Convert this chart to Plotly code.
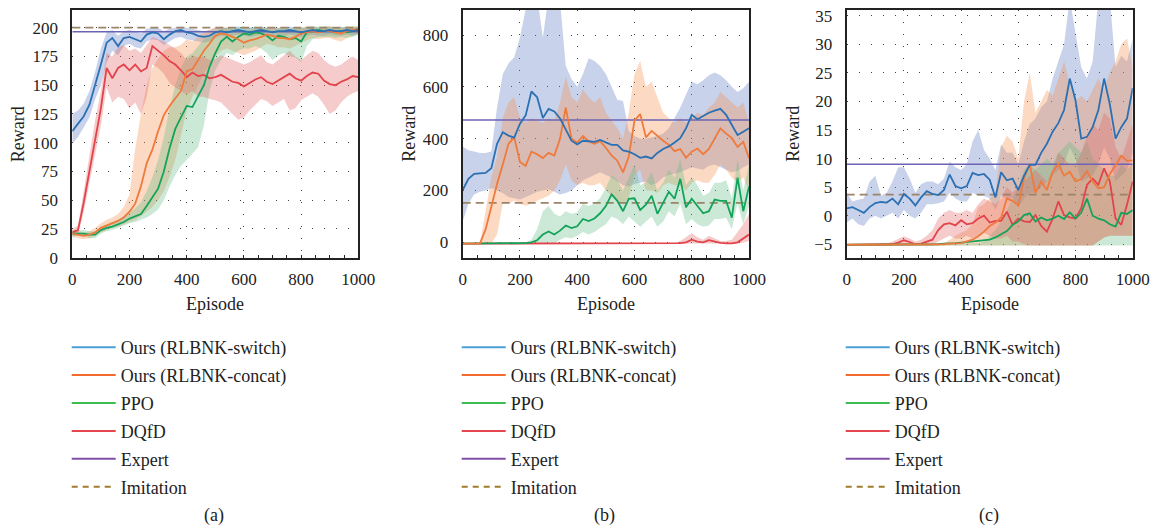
import plotly.graph_objects as go

EPISODES = list(range(0, 1001, 20))

# ---------------- Panel (a) ----------------
A_SWITCH = [110,116,123,133,150,168,187,191,184,191,
            192,190,188,194,196,195,190,194,197,198,
            196,195,193,192,193,196,197,196,197,198,
            197,196,197,198,197,196,197,197,198,197,
            196,197,198,197,197,198,197,197,198,197,
            198]
A_SWITCH_LO = [99,105,113,122,138,150,170,180,176,184,
               186,183,182,188,190,189,185,188,191,192,
               190,189,188,187,188,191,193,192,193,194,
               193,192,193,194,193,192,193,193,194,193,
               192,193,194,193,193,194,193,193,194,193,
               194]
A_SWITCH_HI = [125,128,134,145,162,182,196,198,193,197,
               198,197,195,199,200,200,197,199,200,201,
               200,199,198,197,198,200,200,200,200,201,
               200,200,200,201,200,200,200,200,201,200,
               200,200,201,200,200,201,200,200,201,200,
               201]
A_CONCAT = [21,20,19,20,22,26,28,30,32,35,
            40,47,62,82,94,110,124,132,138,145,
            162,164,172,180,186,193,195,194,192,190,
            187,189,190,192,194,193,191,191,190,192,
            195,196,197,196,197,197,196,195,197,198,
            199]
A_CONCAT_LO = [18,17,16,17,19,22,24,26,27,29,
               31,33,36,40,44,50,58,70,85,105,
               128,140,150,160,168,175,180,182,180,178,
               176,178,180,183,186,185,183,183,182,184,
               187,189,191,190,191,191,189,188,191,193,
               195]
A_CONCAT_HI = [24,23,22,23,26,30,33,35,38,44,
               55,95,125,150,165,173,180,183,183,185,
               190,188,192,196,198,200,201,200,199,198,
               197,198,199,200,200,200,199,199,198,199,
               200,201,201,200,201,201,200,200,201,201,
               201]
A_PPO = [21,21,21,20,20,24,26,27,29,31,
         34,36,38,45,52,60,75,95,112,122,
         132,131,140,150,166,178,188,192,188,192,
         195,194,196,195,193,189,193,192,190,191,
         188,196,197,198,197,197,196,197,196,197,
         199]
A_PPO_LO = [18,19,19,17,17,21,23,24,26,28,
            30,31,33,35,38,42,50,62,72,80,
            85,90,96,115,145,163,172,178,176,180,
            182,182,184,182,178,172,176,178,175,174,
            170,184,190,192,192,192,191,192,191,192,
            194]
A_PPO_HI = [24,24,24,23,23,27,29,31,33,36,
            39,43,48,58,70,85,105,130,150,165,
            175,178,184,190,194,197,199,200,199,200,
            201,200,201,200,200,198,200,200,199,200,
            199,201,201,201,201,201,200,201,200,201,
            201]
A_DQFD = [22,24,48,75,105,130,165,156,165,168,
          163,168,162,165,184,180,176,171,168,163,
          157,161,158,159,156,157,159,156,153,152,
          149,152,155,157,153,151,154,157,160,156,
          154,158,161,160,154,151,150,153,155,158,
          157]
A_DQFD_LO = [19,20,40,62,90,115,148,135,140,138,
             130,135,125,140,168,165,160,152,148,145,
             142,145,140,140,138,137,135,130,125,120,
             122,128,133,138,136,132,135,138,128,130,
             137,140,143,140,133,125,128,135,140,143,
             145]
A_DQFD_HI = [25,28,58,90,120,145,178,175,183,185,
             180,182,178,185,192,190,188,185,182,178,
             172,176,174,175,172,173,176,174,172,170,
             168,170,173,176,170,168,172,176,180,175,
             172,176,180,178,172,168,166,168,172,175,
             172]
A_EXPERT = 196.5
A_IMITATION = 200

# ---------------- Panel (b) ----------------
B_SWITCH = [202,245,264,266,268,286,380,425,412,404,
            458,490,582,560,480,515,505,478,435,392,
            378,392,390,388,395,385,376,376,355,350,
            340,326,331,324,345,360,370,385,402,440,
            492,475,488,500,508,515,492,450,414,427,
            440]
B_SWITCH_LO = [80,150,185,195,200,210,200,190,175,170,
               165,175,185,195,200,205,195,185,190,200,
               220,240,250,260,270,260,250,235,220,215,
               225,230,235,220,230,250,260,265,270,280,
               290,285,280,295,300,290,280,270,275,290,
               300]
B_SWITCH_HI = [370,355,350,345,345,350,520,650,690,715,
               790,900,950,950,790,950,950,930,680,630,
               600,650,710,700,680,650,600,550,545,430,
               410,400,400,405,410,420,440,480,520,570,
               620,610,625,645,655,645,625,600,580,595,
               620]
B_CONCAT = [-5,-5,-5,-5,50,140,225,300,380,405,
            310,295,350,340,325,345,335,400,520,400,
            385,410,390,380,390,365,335,315,270,330,
            470,495,405,430,410,392,376,352,360,326,
            350,362,340,360,400,440,420,402,368,388,
            325]
B_CONCAT_LO = [-5,-5,-5,-5,-5,-5,30,150,150,160,
               150,140,150,160,170,180,200,240,300,240,
               220,230,220,220,230,200,180,160,150,170,
               260,280,200,200,190,220,230,220,220,200,
               230,240,230,230,260,300,280,250,230,250,
               200]
B_CONCAT_HI = [-5,-5,-5,-5,120,250,330,480,540,560,
               480,460,480,470,460,480,470,540,640,560,
               540,590,560,540,560,500,470,440,400,500,
               650,700,600,620,560,500,480,460,480,460,
               480,500,490,520,540,580,560,540,520,540,
               460]
B_PPO = [-5,-5,-5,-5,-5,-5,-5,-5,-5,-5,
         -4,-3,0,8,30,42,30,45,65,55,
         62,90,82,92,112,140,185,160,120,168,
         170,125,145,180,110,150,195,168,245,135,
         168,140,112,120,165,160,160,95,250,120,
         215]
B_PPO_LO = [-5,-5,-5,-5,-5,-5,-5,-5,-5,-5,
            -5,-5,-5,-5,-5,0,-5,10,20,15,
            25,40,30,40,55,70,100,90,70,100,
            80,60,80,100,60,80,120,100,150,70,
            90,70,60,65,90,90,95,50,150,70,
            140]
B_PPO_HI = [-5,-5,-5,-5,-5,-5,-5,-5,-5,-5,
            -3,0,10,50,120,140,110,100,120,110,
            115,150,140,150,170,210,260,240,200,250,
            300,220,230,270,200,230,280,250,320,220,
            250,220,180,190,230,230,240,170,320,200,
            300]
B_DQFD = [-5,-5,-5,-5,-5,-5,-5,-5,-5,-5,
          -5,-5,-5,-5,-5,-5,-5,-5,-5,-5,
          -5,-5,-5,-5,-5,-5,-5,-5,-5,-5,
          -5,-5,-5,-5,-5,-5,-5,-5,-3,0,
          10,3,0,8,3,-2,-4,-4,0,15,
          30]
B_DQFD_LO = [-5,-5,-5,-5,-5,-5,-5,-5,-5,-5,
             -5,-5,-5,-5,-5,-5,-5,-5,-5,-5,
             -5,-5,-5,-5,-5,-5,-5,-5,-5,-5,
             -5,-5,-5,-5,-5,-5,-5,-5,-5,-5,
             -5,-5,-5,-5,-5,-5,-5,-5,-5,-2,
             5]
B_DQFD_HI = [-5,-5,-5,-5,-5,-5,-5,-5,-5,-5,
             -5,-5,-5,-5,-5,-5,-5,-5,-5,-5,
             -5,-5,-5,-5,-5,-5,-5,-5,-5,-5,
             -5,-5,-5,-5,-5,-5,-5,-5,5,20,
             35,20,10,25,15,5,5,10,40,70,
             110]
B_EXPERT = 472
B_IMITATION = 152

# ---------------- Panel (c) ----------------
C_SWITCH = [1.3,1.5,1.0,0.5,1.5,2.2,2.4,2.3,3.0,2.0,
            3.8,3.0,1.8,3.2,4.3,3.8,3.6,4.5,7.2,5.2,
            4.8,5.2,7.5,7.1,7.3,6.3,3.2,7.6,6.2,6.5,
            4.5,7.0,8.9,8.9,11.0,12.6,14.7,16.2,18.5,24.0,
            20.2,13.5,13.8,15.5,18.5,24.0,19.5,13.5,15.5,17.0,
            22.3]
C_SWITCH_LO = [-1.2,-0.5,-1.5,-1.8,-0.5,0.0,-0.5,0.0,0.5,-0.5,
               1.0,0.0,-0.5,0.5,2.0,2.0,2.2,2.5,4.0,3.0,
               2.5,2.5,4.0,3.5,3.5,3.0,1.0,3.5,3.0,3.0,
               1.5,3.0,4.0,4.0,5.0,6.0,7.0,8.0,9.0,12.0,
               10.0,6.0,6.5,7.0,9.0,12.0,10.0,6.0,7.0,8.0,
               11.0]
C_SWITCH_HI = [4.0,2.5,2.8,3.0,6.0,7.0,3.5,4.0,6.0,8.5,
               8.5,6.5,4.0,5.5,6.0,6.0,5.5,6.5,9.5,8.5,
               8.0,9.0,13.0,15.0,11.5,10.0,8.0,12.5,11.0,11.0,
               9.0,13.0,16.0,17.0,19.0,20.0,24.0,27.0,30.0,38.0,
               32.0,26.0,24.0,27.0,38.0,38.0,38.0,26.0,28.0,27.0,
               31.0]
C_CONCAT = [-5.1,-5.1,-5.1,-5.1,-5.1,-5.1,-5.1,-5.1,-5.1,-5.1,
            -5.1,-5.1,-5.1,-5.1,-5.1,-5.1,-5.1,-5.0,-4.9,-4.9,
            -4.8,-4.5,-4.2,-3.6,-2.8,-1.8,-1.2,-0.3,3.0,2.6,
            1.8,6.5,9.0,4.0,6.0,4.5,7.7,9.0,7.0,7.7,
            6.0,6.4,7.8,6.0,4.8,5.0,7.3,8.8,10.5,9.6,
            9.7]
C_CONCAT_LO = [-5.2,-5.2,-5.2,-5.2,-5.2,-5.2,-5.2,-5.2,-5.2,-5.2,
               -5.2,-5.2,-5.2,-5.2,-5.2,-5.2,-5.2,-5.2,-5.2,-5.2,
               -5.2,-5.2,-5.2,-5.2,-5.2,-5.2,-5.2,-5.2,-5.2,-5.2,
               -5.2,-5.2,-5.2,-5.2,-5.2,-5.2,-5.2,-5.2,-5.2,-5.2,
               -5.2,-5.2,-5.2,-5.2,-4.5,-3.8,-3.5,-3.5,-3.5,-3.5,
               -3.5]
C_CONCAT_HI = [-4.8,-4.8,-4.8,-4.8,-4.8,-4.8,-4.8,-4.8,-4.8,-4.8,
               -4.8,-4.8,-4.8,-4.8,-4.8,-4.8,-4.8,-4.8,-4.2,-3.5,
               -3.0,-2.5,-1.5,1.5,2.0,3.0,4.0,12.0,14.0,13.0,
               10.0,20.0,25.0,18.0,20.0,22.0,21.0,24.0,27.0,23.0,
               20.0,21.0,20.0,22.0,24.0,22.0,25.0,27.0,30.0,31.0,
               26.0]
C_PPO = [-5.1,-5.1,-5.1,-5.1,-5.1,-5.1,-5.1,-5.1,-5.1,-5.1,
         -5.1,-5.1,-5.1,-5.1,-5.1,-5.1,-5.0,-4.9,-4.9,-4.8,
         -4.7,-4.6,-4.5,-4.4,-4.3,-4.2,-3.8,-3.2,-2.7,-1.6,
         -1.0,0.1,0.4,-1.0,-0.3,-0.8,-0.5,0.0,-0.6,0.6,
         -0.5,0.5,3.0,0.0,-0.5,-0.8,-1.5,-1.9,0.5,0.3,
         1.0]
C_PPO_LO = [-5.2] * 51
C_PPO_HI = [-4.8,-4.8,-4.8,-4.8,-4.8,-4.8,-4.8,-4.8,-4.8,-4.8,
            -4.8,-4.8,-4.8,-4.8,-4.8,-4.8,-4.8,-4.8,-4.8,-4.8,
            -4.8,-4.8,-4.8,-4.8,-4.5,-3.5,-2.5,-1.0,1.0,3.0,
            5.0,8.0,9.0,8.0,9.0,10.0,9.0,11.0,12.0,13.0,
            12.0,11.0,13.0,10.0,9.0,8.0,7.0,7.0,9.0,8.0,
            9.0]
C_DQFD = [-5.1,-5.1,-5.1,-5.1,-5.1,-5.1,-5.1,-5.1,-5.0,-4.7,
          -4.3,-4.6,-5.0,-4.9,-4.5,-4.2,-2.5,-1.5,-1.3,-1.7,
          -0.8,-1.5,-1.3,-0.5,0.0,-1.2,-0.9,-0.9,0.7,-1.6,
          -0.5,-1.0,-1.1,0.1,-1.8,-2.8,-0.5,2.5,0.1,-0.3,
          -0.5,1.3,5.4,6.5,5.4,8.3,6.0,-0.5,-1.6,1.9,
          6.0]
C_DQFD_LO = [-5.2,-5.2,-5.2,-5.2,-5.2,-5.2,-5.2,-5.2,-5.2,-5.2,
             -5.2,-5.2,-5.2,-5.2,-5.2,-5.2,-4.5,-4.0,-3.5,-4.0,
             -4.0,-3.5,-4.0,-3.5,-3.0,-3.5,-4.0,-4.0,-3.5,-4.5,
             -4.5,-5.0,-5.2,-5.2,-5.2,-5.2,-5.2,-5.2,-5.2,-5.2,
             -5.2,-5.2,-5.2,-5.2,-4.5,-3.8,-3.5,-3.5,-3.5,-3.5,
             -3.5]
C_DQFD_HI = [-4.9,-4.9,-4.9,-4.9,-4.9,-4.9,-4.9,-4.9,-4.5,-4.0,
             -3.6,-4.0,-4.5,-4.2,-3.5,-2.5,-0.5,0.5,1.0,0.5,
             0.5,1.0,0.5,2.0,3.0,2.5,2.0,3.0,5.0,4.0,
             5.0,6.0,7.0,8.0,7.0,6.0,8.0,11.0,10.0,9.0,
             9.0,11.0,14.0,16.0,15.0,18.0,17.0,12.0,10.0,13.0,
             16.0]
C_EXPERT = 9.0
C_IMITATION = 3.7

SERIES_NAMES = ["Ours (RLBNK-switch)", "Ours (RLBNK-concat)", "PPO", "DQfD"]
LINE_COLORS = ["#2b70b3", "#ee7a3d", "#13a35a", "#e3434b"]
BAND_COLORS = ["rgba(98,126,195,0.35)", "rgba(246,141,69,0.33)",
               "rgba(98,189,132,0.33)", "rgba(226,98,98,0.33)"]
LEGEND_COLORS = ["#4a9fd6", "#f26b2d", "#3dbd4f", "#e6464e", "#7f4fa8", "#a07c2c"]
EXPERT_COLOR = "#6c63b5"
IMITATION_COLOR = "#9b8467"

PANELS = [
    dict(key="", series=[(A_SWITCH, A_SWITCH_LO, A_SWITCH_HI), (A_CONCAT, A_CONCAT_LO, A_CONCAT_HI),
                         (A_PPO, A_PPO_LO, A_PPO_HI), (A_DQFD, A_DQFD_LO, A_DQFD_HI)],
         expert=A_EXPERT, imitation=A_IMITATION, yrange=[0, 215.4],
         ytick=[0, 25, 50, 75, 100, 125, 150, 175, 200], left=72.3, right=358.3, label="(a)", legend="legend"),
    dict(key="2", series=[(B_SWITCH, B_SWITCH_LO, B_SWITCH_HI), (B_CONCAT, B_CONCAT_LO, B_CONCAT_HI),
                          (B_PPO, B_PPO_LO, B_PPO_HI), (B_DQFD, B_DQFD_LO, B_DQFD_HI)],
         expert=B_EXPERT, imitation=B_IMITATION, yrange=[-59.4, 896.6],
         ytick=[0, 200, 400, 600, 800], left=462.7, right=749.0, label="(b)", legend="legend2"),
    dict(key="3", series=[(C_SWITCH, C_SWITCH_LO, C_SWITCH_HI), (C_CONCAT, C_CONCAT_LO, C_CONCAT_HI),
                          (C_PPO, C_PPO_LO, C_PPO_HI), (C_DQFD, C_DQFD_LO, C_DQFD_HI)],
         expert=C_EXPERT, imitation=C_IMITATION, yrange=[-7.35, 36.0],
         ytick=[-5, 0, 5, 10, 15, 20, 25, 30, 35], left=846.7, right=1132.7, label="(c)", legend="legend3"),
]

W, H = 1156, 528
FONT = "Liberation Serif"
TOP_PX, BOTTOM_PX = 10.0, 257.7

fig = go.Figure()
annotations = []
layout_axes = {}

for p in PANELS:
    xa, ya = "x" + p["key"], "y" + p["key"]
    for (mean, lo, hi), bc in zip(p["series"], BAND_COLORS):
        fig.add_trace(go.Scatter(x=EPISODES + EPISODES[::-1], y=hi + lo[::-1], fill="toself",
                                 fillcolor=bc, line=dict(width=0), mode="lines", hoverinfo="skip",
                                 showlegend=False, xaxis=xa, yaxis=ya))
    fig.add_trace(go.Scatter(x=[0, 1000], y=[p["expert"], p["expert"]], mode="lines",
                             line=dict(color=EXPERT_COLOR, width=1.5), showlegend=False, xaxis=xa, yaxis=ya))
    fig.add_trace(go.Scatter(x=[0, 1000], y=[p["imitation"], p["imitation"]], mode="lines",
                             line=dict(color=IMITATION_COLOR, width=1.8, dash="8px,5px"),
                             showlegend=False, xaxis=xa, yaxis=ya))
    for i in [3, 2, 1, 0]:
        mean = p["series"][i][0]
        fig.add_trace(go.Scatter(x=EPISODES, y=mean, mode="lines",
                                 line=dict(color=LINE_COLORS[i], width=1.8),
                                 showlegend=False, xaxis=xa, yaxis=ya))
    names = SERIES_NAMES + ["Expert", "Imitation"]
    for j, nm in enumerate(names):
        fig.add_trace(go.Scatter(x=[None], y=[None], mode="lines", name=nm,
                                 line=dict(color=LEGEND_COLORS[j], width=2,
                                           dash="6px,5px" if nm == "Imitation" else "solid"),
                                 legend=p["legend"], legendgroup=p["legend"] + nm,
                                 xaxis=xa, yaxis=ya))

    x0, x1 = p["left"] / W, p["right"] / W
    axis_common = dict(showline=True, mirror=True, linecolor="#222", linewidth=2,
                       showgrid=True, gridcolor="#444", griddash="1px,11px", gridwidth=1,
                       zeroline=False, automargin=False,
                       tickfont=dict(family=FONT, size=17, color="#222"))
    layout_axes["xaxis" + p["key"]] = dict(
        domain=[x0, x1], range=[0, 1000], anchor=ya, tickvals=[0, 200, 400, 600, 800, 1000],
        ticks="inside", ticklen=3, tickcolor="#222",
        minor=dict(ticks="inside", dtick=50, ticklen=3, tickcolor="#222", showgrid=False),
        ticklabelstandoff=5, **axis_common)
    layout_axes["yaxis" + p["key"]] = dict(
        domain=[1 - BOTTOM_PX / H, 1 - TOP_PX / H], range=p["yrange"], anchor=xa,
        tickvals=p["ytick"], ticks="", ticklabelstandoff=9, **axis_common)

    cx = (p["left"] + p["right"]) / 2 / W
    annotations.append(dict(text="Episode", x=cx, y=1 - 304 / H, xref="paper", yref="paper",
                            showarrow=False, font=dict(family=FONT, size=18, color="#222"),
                            xanchor="center", yanchor="middle"))
    annotations.append(dict(text="Reward", x=(p["left"] - 54) / W, y=1 - 134 / H, xref="paper",
                            yref="paper", showarrow=False, textangle=-90,
                            font=dict(family=FONT, size=18, color="#222"),
                            xanchor="center", yanchor="middle"))
    annotations.append(dict(text=p["label"], x=(p["left"] + 142) / W, y=1 - 515 / H, xref="paper",
                            yref="paper", showarrow=False, font=dict(family=FONT, size=18, color="#222"),
                            xanchor="center", yanchor="middle"))

legend_common = dict(font=dict(family=FONT, size=18, color="#222"), bgcolor="rgba(0,0,0,0)",
                     borderwidth=0, xanchor="left", yanchor="top", tracegroupgap=1.5,
                     itemwidth=44, traceorder="grouped")
fig.update_layout(
    width=W, height=H, margin=dict(l=0, r=0, t=0, b=0),
    paper_bgcolor="white", plot_bgcolor="white",
    showlegend=True,
    legend=dict(x=(72.7 - 6) / W, y=1 - 329 / H, **legend_common),
    legend2=dict(x=(462.7 - 6) / W, y=1 - 329 / H, **legend_common),
    legend3=dict(x=(846.7 - 6) / W, y=1 - 329 / H, **legend_common),
    annotations=annotations,
    **layout_axes,
)

fig.write_html("out.html", config={"displayModeBar": False},
               post_script="document.body.style.margin='0px';")
